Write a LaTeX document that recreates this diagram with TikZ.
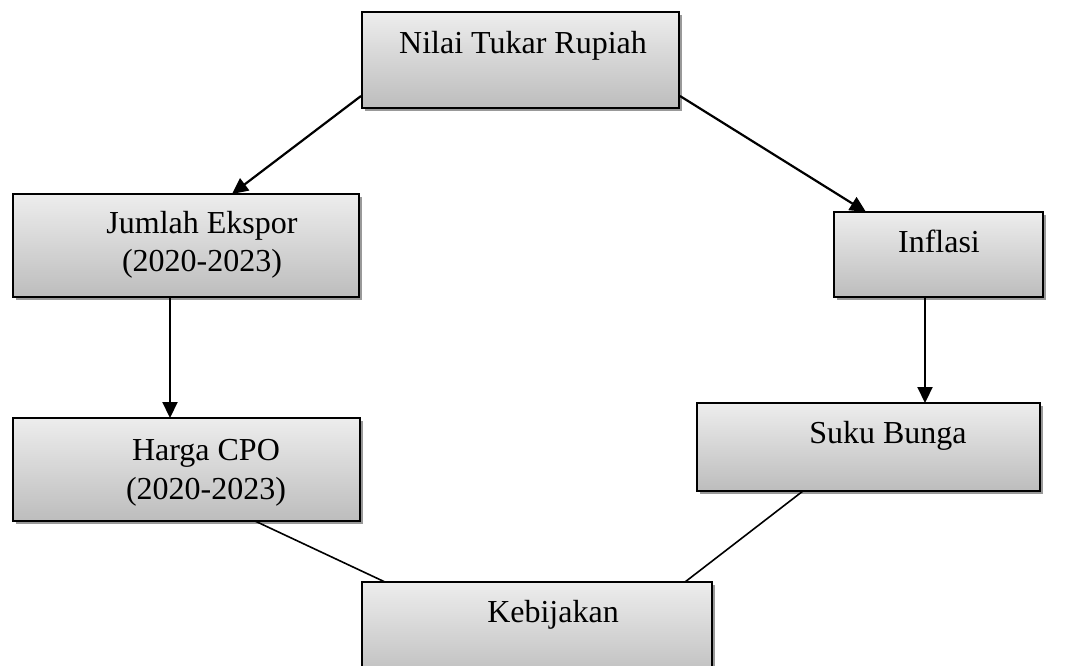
\documentclass[tikz,border=0pt]{standalone}
\usepackage{fontspec}
\setmainfont{Liberation Serif}
\usetikzlibrary{calc,shadows,arrows.meta}
\tikzset{
  box/.style={draw=black, line width=2pt, outer sep=0pt, inner sep=0pt,
    top color=black!7, bottom color=black!26,
    general shadow={shadow xshift=3pt, shadow yshift=-3pt, fill=black!40}},
  lbl/.style={anchor=base, align=center, inner sep=0pt, font=\fontsize{32}{39}\selectfont},
  arr/.style={line width=2.2pt, -{Triangle[length=16pt,width=15pt]}},
  ln/.style={line width=1.6pt}
}
\begin{document}
\begin{tikzpicture}[x=1pt,y=-1pt]
\useasboundingbox (0,0) rectangle (1072,666);
\clip (0,0) rectangle (1072,666);
\node[box, minimum width=317pt, minimum height=96pt] (nilai) at (520.5,60) {};
\node[box, minimum width=346pt, minimum height=103pt] (jumlah) at (186,245.5) {};
\node[box, minimum width=209pt, minimum height=85pt] (inflasi) at (938.5,254.5) {};
\node[box, minimum width=347pt, minimum height=103pt] (harga) at (186.5,469.5) {};
\node[box, minimum width=343pt, minimum height=88pt] (suku) at (868.5,447) {};
\node[box, minimum width=350pt, minimum height=100pt] (kebijakan) at (537,632) {};

\node[lbl] (tnilai) at (523,54) {Nilai Tukar Rupiah};
\node[lbl] (tjumlah) at (202,272) {Jumlah Ekspor\\(2020-2023)};
\node[lbl] (tinflasi) at (939,252) {Inflasi};
\node[lbl] (tharga) at (206,499) {Harga CPO\\(2020-2023)};
\node[lbl] (tsuku) at (888,443) {Suku Bunga};
\node[lbl] (tkeb) at (553,622) {Kebijakan};

\draw[arr] ($(nilai.south west)+(-1,-12)$) -- ($(jumlah.north west)+(219,0)$);
\draw[arr] ($(nilai.south east)+(1,-12)$) -- ($(inflasi.north west)+(32,0)$);
\draw[arr] ($(jumlah.south west)+(157,0)$) -- ($(harga.north west)+(157,0)$);
\draw[arr] ($(inflasi.south west)+(91,0)$) -- ($(suku.north west)+(228,0)$);
\draw[ln] ($(harga.south west)+(242,0)$) -- ($(kebijakan.north west)+(23,0)$);
\draw[ln] ($(suku.south west)+(106,0)$) -- ($(kebijakan.north west)+(323,0)$);
\end{tikzpicture}
\end{document}
